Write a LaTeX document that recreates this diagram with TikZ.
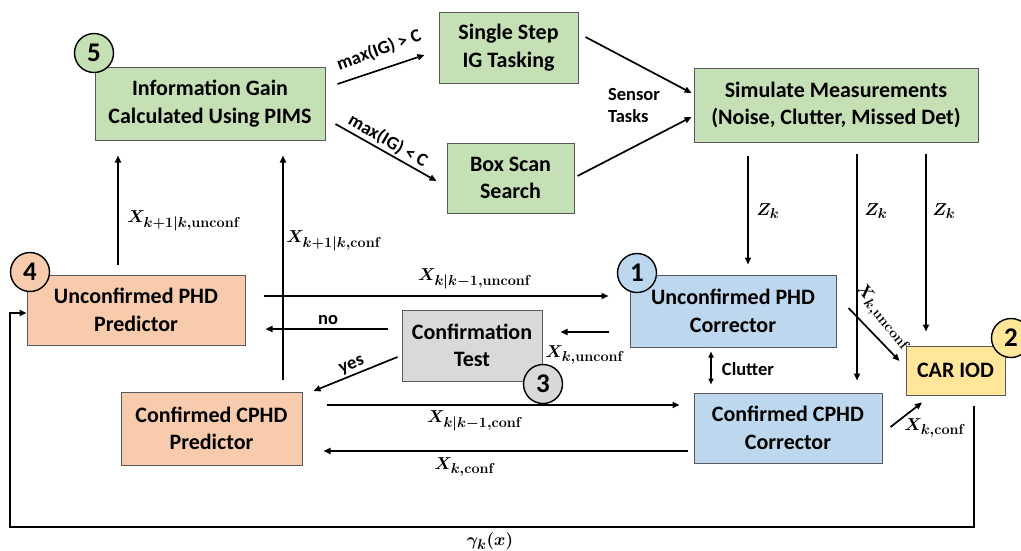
\documentclass[tikz,border=0pt]{standalone}
\usepackage{fontspec}
\setmainfont{Carlito}
\usepackage{amsmath,bm}
\usetikzlibrary{arrows.meta,calc}

\definecolor{gfill}{HTML}{C5E0B4}
\definecolor{ofill}{HTML}{F8CBAD}
\definecolor{bfill}{HTML}{BDD7EE}
\definecolor{kfill}{HTML}{D9D9D9}
\definecolor{yfill}{HTML}{FFE699}
\definecolor{edge}{HTML}{595959}

\tikzset{
  blk/.style={draw=edge, line width=1pt, align=center, inner sep=0pt,
    font=\fontsize{22}{27.5}\selectfont\bfseries},
  badge/.style={circle, draw=black, line width=1.4pt, minimum size=39pt, inner sep=0pt,
    font=\fontsize{27}{30}\selectfont\bfseries},
  arr/.style={line width=1.7pt, -{Triangle[length=7pt,width=6pt]}},
  darr/.style={line width=1.7pt, {Triangle[length=6pt,width=5pt]}-{Triangle[length=6pt,width=5pt]}},
  lbl/.style={font=\fontsize{18.5}{22}\selectfont\bfseries, inner sep=0pt},
  mlbl/.style={font=\fontsize{19}{22}\selectfont\boldmath, inner sep=0pt},
}

\begin{document}
\begin{tikzpicture}[x=1pt, y=-1pt]
\useasboundingbox (0,0) rectangle (1021,550);

% processing blocks
\node[blk, fill=gfill, minimum width=230pt, minimum height=73pt] (info) at (210,103.5)
  {Information Gain\\Calculated Using PIMS};
\node[blk, fill=gfill, minimum width=139pt, minimum height=71pt] (single) at (508.5,47.5)
  {Single Step\\IG Tasking};
\node[blk, fill=gfill, minimum width=127pt, minimum height=70pt] (boxscan) at (510.5,178)
  {Box Scan\\Search};
\node[blk, fill=gfill, minimum width=284pt, minimum height=74pt] (sim) at (836,105)
  {Simulate Measurements\\(Noise, Clutter, Missed Det)};
\node[blk, fill=ofill, minimum width=218pt, minimum height=70pt] (upred) at (136,310)
  {Unconfirmed PHD\\Predictor};
\node[blk, fill=bfill, minimum width=206pt, minimum height=72pt] (ucorr) at (733,311)
  {Unconfirmed PHD\\Corrector};
\node[blk, fill=kfill, minimum width=140pt, minimum height=71pt] (ctest) at (472,345.5)
  {Confirmation\\Test};
\node[blk, fill=ofill, minimum width=181pt, minimum height=73pt] (cpred) at (211.5,428.5)
  {Confirmed CPHD\\Predictor};
\node[blk, fill=bfill, minimum width=188pt, minimum height=70pt] (ccorr) at (788,428)
  {Confirmed CPHD\\Corrector};
\node[blk, fill=yfill, minimum width=99pt, minimum height=49pt] (car) at (955.5,370.5)
  {CAR IOD};

% numbered badges
\node[badge, fill=gfill] (n5) at (94,53) {5};
\node[badge, fill=ofill] (n4) at (30,272) {4};
\node[badge, fill=bfill] (n1) at (637,273) {1};
\node[badge, fill=kfill] (n3) at (543,384) {3};
\node[badge, fill=yfill] (n2) at (1011,338) {2};

% tasking branch
\draw[arr] ($(info.east)+(12,-19.5)$) -- ($(single.west)+(-14,7.5)$);
\node[lbl, rotate=20] (lgt) at (379,50) {max(IG) > C};
\draw[arr] ($(info.east)+(10,20.5)$) -- ($(boxscan.west)+(-10,3)$);
\node[lbl, rotate=-30] (llt) at (388,141) {max(IG) < C};
\draw[arr] ($(single.east)+(7,-10.5)$) -- ($(sim.west)+(-2,-12)$);
\draw[arr] ($(boxscan.east)+(3,-2)$) -- ($(sim.west)+(-2,12)$);
\node[lbl, align=left] (ltask) at (634,105) {Sensor\\Tasks};

% measurements
\draw[arr] ($(sim.south)+(-88,13)$) -- ($(ucorr.north)+(15,-10)$);
\node[mlbl] (lz1) at (768,211) {$Z_k$};
\draw[arr] ($(sim.south)+(21,11)$) -- ($(ccorr.north)+(69,-12)$);
\node[mlbl] (lz2) at (876,211) {$Z_k$};
\draw[arr] ($(sim.south)+(90,11)$) -- ($(car.north)+(-29.5,-14)$);
\node[mlbl] (lz3) at (944,211) {$Z_k$};

% inputs to CAR IOD
\draw[arr] ($(ucorr.east)+(12,-3)$) -- ($(car.west)+(-6,-9.5)$);
\node[mlbl, rotate=-50] (lxu) at (883,317) {$X_{k,\mathbf{unconf}}$};
\draw[arr] ($(ccorr.east)+(8,-1)$) -- ($(car.south)+(-33.5,7)$);
\node[mlbl] (lxc) at (935,428) {$X_{k,\mathbf{conf}}$};

% corrector coupling
\draw[darr] ($(ucorr.south)+(-22,4)$) -- ($(ccorr.north)+(-77,-8)$);
\node[lbl] (lclut) at (748,369) {Clutter};

% unconfirmed loop
\draw[arr] ($(upred.east)+(18,-14)$) -- ($(ucorr.west)+(-21,-15)$);
\node[mlbl] (lpu) at (475,279) {$X_{k|k-1,\mathbf{unconf}}$};
\draw[arr] ($(ucorr.west)+(-21,21)$) -- ($(ctest.east)+(18,-13.5)$);
\node[mlbl] (lcu) at (585,355) {$X_{k,\mathbf{unconf}}$};
\draw[arr] ($(ctest.west)+(-14,-16.5)$) -- ($(upred.east)+(20,19)$);
\node[lbl] (lno) at (328,320) {no};
\draw[arr] ($(ctest.west)+(-4,11.5)$) -- ($(cpred.east)+(11,-37.5)$);
\node[lbl, rotate=22] (lyes) at (352,366) {yes};

% confirmed loop
\draw[arr] ($(cpred.east)+(24,-23.5)$) -- ($(ccorr.west)+(-14,-23)$);
\node[mlbl] (lpc) at (475,421) {$X_{k|k-1,\mathbf{conf}}$};
\draw[arr] ($(ccorr.west)+(-6,23)$) -- ($(cpred.east)+(21,22.5)$);
\node[mlbl] (lcc) at (465,467) {$X_{k,\mathbf{conf}}$};

% predictions fed to information gain
\draw[arr] ($(upred.north)+(-18,-10)$) -- ($(info.south)+(-92,15)$);
\node[mlbl] (lnu) at (184,221) {$X_{k+1|k,\mathbf{unconf}}$};
\draw[arr] ($(cpred.north)+(71.5,-12)$) -- ($(info.south)+(73,15)$);
\node[mlbl] (lnc) at (334,241) {$X_{k+1|k,\mathbf{conf}}$};

% birth intensity feedback
\coordinate (fbl) at (10,527);
\draw[arr, line width=2pt] ($(car.south)+(18.5,10)$) |- (fbl) |- ($(upred.west)+(0,3)$);
\node[mlbl] (lgam) at (490,541) {$\boldsymbol{\gamma}_k(x)$};
\end{tikzpicture}
\end{document}
